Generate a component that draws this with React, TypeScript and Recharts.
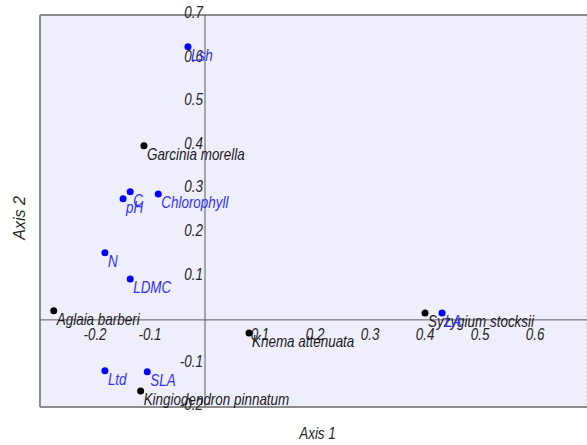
import {
  ScatterChart,
  Scatter,
  XAxis,
  YAxis,
  CartesianGrid,
  ReferenceLine,
} from 'recharts'

// ordination scores
const traitNames = ['Lsh', 'C', 'pH', 'Chlorophyll', 'N', 'LDMC', 'Ltd', 'SLA', 'LA']
const traitAxis1 = [-0.031, -0.136, -0.149, -0.085, -0.182, -0.136, -0.182, -0.105, 0.431]
const traitAxis2 = [0.627, 0.294, 0.278, 0.289, 0.154, 0.094, -0.117, -0.119, 0.016]

const speciesNames = [
  'Garcinia morella',
  'Aglaia barberi',
  'Knema attenuata',
  'Kingiodendron pinnatum',
  'Syzygium stocksii',
]
const speciesAxis1 = [-0.111, -0.275, 0.08, -0.117, 0.4]
const speciesAxis2 = [0.4, 0.021, -0.03, -0.163, 0.016]

const xGrid = [-0.3, -0.2, -0.1, 0, 0.1, 0.2, 0.3, 0.4, 0.5, 0.6]
const yGrid = [-0.2, -0.1, 0, 0.1, 0.2, 0.3, 0.4, 0.5, 0.6, 0.7]
const xTickLabels = [-0.2, -0.1, 0.1, 0.2, 0.3, 0.4, 0.5, 0.6]
const yTickLabels = [-0.2, -0.1, 0.1, 0.2, 0.3, 0.4, 0.5, 0.6, 0.7]

const FONT = "'Liberation Sans', Arial, sans-serif"
// the original uses a condensed face, squeeze the glyphs horizontally
const SQUEEZE = 0.84

const traits = traitNames.map((name, i) => ({ name, x: traitAxis1[i], y: traitAxis2[i] }))
const species = speciesNames.map((name, i) => ({ name, x: speciesAxis1[i], y: speciesAxis2[i] }))
const xTicks = xTickLabels.map((t) => ({ x: t, y: 0, name: String(t) }))
const yTicks = yTickLabels.map((t) => ({ x: 0, y: t, name: String(t) }))

function Narrow({ x, y, anchor = 'start', fill, rotate = 0, squeeze = SQUEEZE, children }: any) {
  return (
    <text
      transform={`translate(${x},${y}) rotate(${rotate}) scale(${squeeze},1)`}
      textAnchor={anchor}
      dominantBaseline="middle"
      fontFamily={FONT}
      fontStyle="italic"
      fontSize={16}
      fill={fill}
    >
      {children}
    </text>
  )
}

function makePoint(dotColor: string, textColor: string) {
  return (props: any) => {
    const { cx, cy, payload } = props
    return (
      <g>
        <circle cx={cx} cy={cy} r={3.5} fill={dotColor} />
        <Narrow x={cx + 3} y={cy + 10} fill={textColor}>{payload.name}</Narrow>
      </g>
    )
  }
}

function XTickText(props: any) {
  const { cx, cy, payload } = props
  return <Narrow x={cx} y={cy + 16} anchor="middle" fill="#262626">{payload.name}</Narrow>
}

function YTickText(props: any) {
  const { cx, cy, payload } = props
  return <Narrow x={cx - 2} y={cy - 1} anchor="end" fill="#262626">{payload.name}</Narrow>
}

function XTitle(props: any) {
  const { viewBox } = props
  return (
    <Narrow x={viewBox.x + viewBox.width / 2 + 4} y={viewBox.y + 28} anchor="middle" fill="#262626">
      Axis 1
    </Narrow>
  )
}

function YTitle(props: any) {
  const { viewBox } = props
  return (
    <Narrow x={21} y={viewBox.y + viewBox.height / 2 + 7} anchor="middle" rotate={-90} squeeze={1} fill="#262626">
      Axis 2
    </Narrow>
  )
}

export default function App() {
  return (
    <div style={{ position: 'absolute', left: 0, top: 0, background: '#fff' }}>
      <ScatterChart width={587} height={445} margin={{ top: 15, right: 0, bottom: 0, left: 0 }}>
        <CartesianGrid fill="#efeffc" stroke="#c4c4c4" strokeDasharray="2 2" />
        <XAxis
          type="number"
          dataKey="x"
          domain={[-0.3, 0.6945]}
          ticks={xGrid}
          tick={false}
          tickLine={false}
          axisLine={false}
          height={38}
          label={<XTitle />}
        />
        <YAxis
          type="number"
          dataKey="y"
          domain={[-0.2, 0.7]}
          ticks={yGrid}
          tick={false}
          tickLine={false}
          axisLine={false}
          width={40}
          label={<YTitle />}
        />
        <ReferenceLine y={0.7} stroke="#8c8c8c" strokeWidth={2} />
        <ReferenceLine y={-0.2} stroke="#8c8c8c" strokeWidth={2} />
        <ReferenceLine x={-0.3} stroke="#8c8c8c" strokeWidth={2} />
        <ReferenceLine x={0} stroke="#5a5a5a" strokeWidth={1} />
        <ReferenceLine y={0} stroke="#5a5a5a" strokeWidth={1} />
        <Scatter data={xTicks} shape={XTickText} isAnimationActive={false} />
        <Scatter data={yTicks} shape={YTickText} isAnimationActive={false} />
        <Scatter data={species} shape={makePoint('#000', '#1a1a1a')} isAnimationActive={false} />
        <Scatter data={traits} shape={makePoint('#0000ff', '#3030ff')} isAnimationActive={false} />
      </ScatterChart>
    </div>
  )
}
